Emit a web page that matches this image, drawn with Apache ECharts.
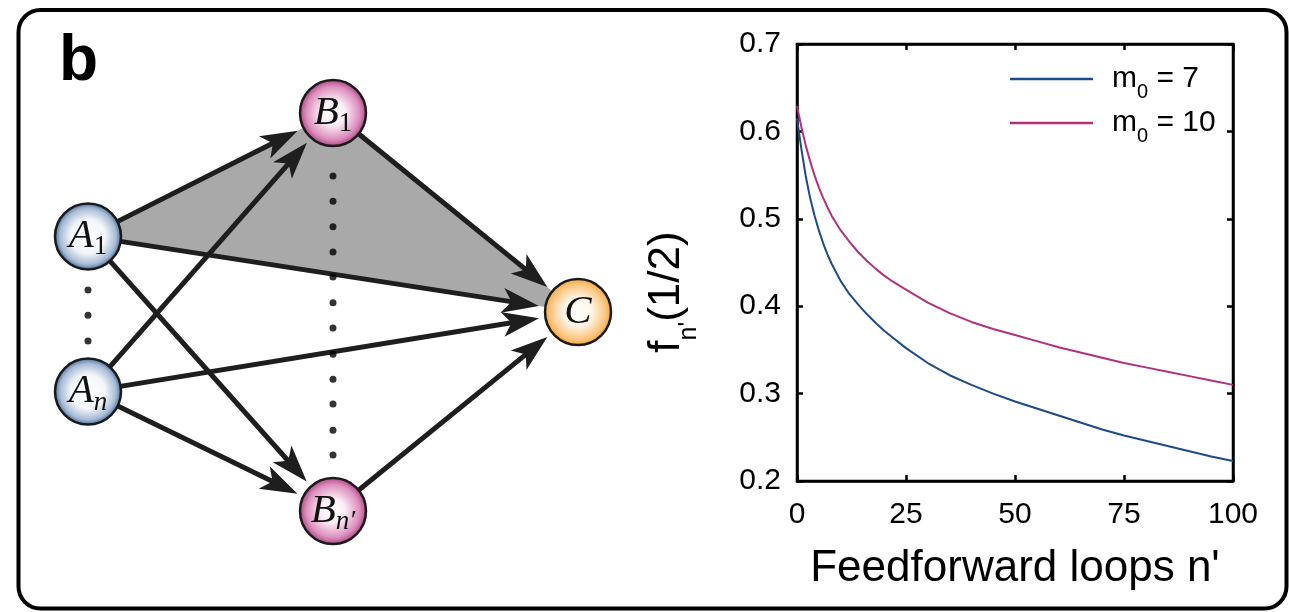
<!DOCTYPE html>
<html>
<head>
<meta charset="utf-8">
<script src="https://cdn.jsdelivr.net/npm/echarts@6/dist/echarts.min.js"></script>
<style>
  html, body { margin: 0; padding: 0; background: #fff; }
  #chart { width: 1289px; height: 612px; }
</style>
</head>
<body>
<div id="chart"></div>
<script>
// ---- right panel: f_n'(1/2) against number of feedforward loops ----
const loops = [0, 1, 2, 3, 4, 5, 6, 7, 8, 10, 12, 14, 16, 18, 20, 22, 25, 30, 35, 40, 45, 50, 55, 60, 65, 70, 75, 80, 85, 90, 95, 100];
const fM7 = [0.615, 0.580, 0.549, 0.524, 0.504, 0.487, 0.472, 0.459, 0.448, 0.429, 0.414, 0.402, 0.391, 0.381, 0.372, 0.364, 0.352, 0.335, 0.321, 0.310, 0.300, 0.291, 0.283, 0.275, 0.267, 0.259, 0.252, 0.246, 0.240, 0.234, 0.228, 0.223];
const fM10 = [0.629, 0.605, 0.584, 0.566, 0.550, 0.536, 0.524, 0.513, 0.503, 0.487, 0.474, 0.462, 0.452, 0.443, 0.435, 0.428, 0.419, 0.404, 0.392, 0.382, 0.374, 0.367, 0.360, 0.353, 0.347, 0.341, 0.335, 0.330, 0.325, 0.320, 0.315, 0.310];
const seriesNames = ['m0 = 7', 'm0 = 10'];
const seriesColors = ['#1d4b87', '#b3317c'];

// ---- left panel: feedforward network ----
const nodeNames = ['A1', 'An', 'B1', 'Bn', 'C'];
const nodeCol = [0, 0, 1, 1, 2];
const nodeRow = [0.31, 0.70, 0, 1, 0.50];
const nodeKind = ['a', 'a', 'b', 'b', 'c'];
const nodeLabels = ['{v|A}{s|1}', '{v|A}{si|n}', '{v|B}{s|1}', "{v|B}{si|n′}", '{v|C}'];
const edgeFrom = ['A1', 'A1', 'A1', 'An', 'An', 'An', 'B1', 'Bn'];
const edgeTo = ['B1', 'C', 'Bn', 'B1', 'C', 'Bn', 'C', 'C'];
const shaded = ['A1', 'B1', 'C'];
const dotsACol = [0, 0, 0];
const dotsARow = [0.445, 0.508, 0.573];
const dotsBCol = [1, 1, 1, 1, 1, 1, 1, 1, 1, 1, 1, 1];
const dotsBRow = [0.158, 0.222, 0.286, 0.349, 0.412, 0.477, 0.540, 0.606, 0.669, 0.731, 0.797, 0.859];

const FONT = 'Liberation Sans';
const SERIF = 'Liberation Serif';

const kindFill = {
  a: new echarts.graphic.RadialGradient(0.5, 0.5, 0.5, [
    { offset: 0, color: '#ffffff' }, { offset: 0.5, color: '#f3f6fa' },
    { offset: 0.82, color: '#a7bbd5' }, { offset: 1, color: '#3a6093' }]),
  b: new echarts.graphic.RadialGradient(0.5, 0.5, 0.5, [
    { offset: 0, color: '#ffffff' }, { offset: 0.35, color: '#fbeef6' },
    { offset: 0.78, color: '#dc8ebd' }, { offset: 1, color: '#a63d7d' }]),
  c: new echarts.graphic.RadialGradient(0.5, 0.5, 0.5, [
    { offset: 0, color: '#ffffff' }, { offset: 0.4, color: '#fff6ea' },
    { offset: 0.8, color: '#fbc67f' }, { offset: 1, color: '#f1a236' }])
};

const arrowPath = 'path://M0,0L9.5,28L0,21L-9.5,28Z M-14,0L-14,0.01 M14,28L14,27.99';

const axisLine = { show: true, onZero: false, lineStyle: { color: '#000', width: 2.5 } };
const tickIn = { show: true, inside: true, length: 6, lineStyle: { color: '#000', width: 2.5 } };

const chart = echarts.init(document.getElementById('chart'));
chart.setOption({
  animation: false,
  textStyle: { fontFamily: FONT },
  graphic: [
    { type: 'rect', z: 0, shape: { x: 18.5, y: 10, width: 1268, height: 598.5, r: 22 },
      style: { fill: 'none', stroke: '#000', lineWidth: 4 } },
    { type: 'text', x: 59, y: 62, style: { text: 'b', font: 'bold 64px ' + FONT, fill: '#000', verticalAlign: 'middle' } },
    { type: 'text', x: 667, y: 292, rotation: Math.PI / 2,
      style: {
        text: "{a|f}{s|n'}{a|(1/2)}", align: 'center', verticalAlign: 'middle', fill: '#000',
        rich: {
          a: { fontFamily: FONT, fontSize: 44, lineHeight: 44, color: '#000' },
          s: { fontFamily: FONT, fontSize: 25, lineHeight: 25, padding: [44, 0, 0, 0], color: '#000' }
        }
      } }
  ],
  grid: [
    { left: 797, top: 44, width: 436, height: 437, show: true, borderColor: '#000', borderWidth: 2.5, outerBoundsMode: 'none' },
    { left: 88, top: 113, width: 490, height: 398, show: false, outerBoundsMode: 'none' }
  ],
  legend: seriesNames.map((name, i) => ({
    data: [name],
    left: 1010, top: [56, 100][i], padding: 0, orient: 'vertical',
    icon: 'rect', itemWidth: 83, itemHeight: 2.5, selectedMode: false,
    formatter: n => n.replace(/^m0 = (.*)$/, '{a|m}{s|0}{b| = $1}'),
    textStyle: {
      rich: {
        a: { fontSize: 30, lineHeight: 30, color: '#000', padding: [0, 0, 0, 14] },
        b: { fontSize: 30, lineHeight: 30, color: '#000' },
        s: { fontSize: 20, lineHeight: 20, color: '#000', padding: [26, 0, 0, 0] }
      }
    }
  })),
  xAxis: [
    { gridIndex: 0, type: 'value', position: 'bottom', min: 0, max: 100, interval: 25,
      axisLine, axisTick: tickIn, splitLine: { show: false },
      axisLabel: { fontSize: 30, color: '#000', margin: 19 },
      name: "Feedforward loops n'", nameLocation: 'middle', nameGap: 66,
      nameTextStyle: { fontSize: 44, color: '#000' } },
    { gridIndex: 0, type: 'value', position: 'top', min: 0, max: 100, interval: 25,
      axisLine, axisTick: tickIn, splitLine: { show: false }, axisLabel: { show: false } },
    { gridIndex: 1, type: 'value', min: 0, max: 2, show: false }
  ],
  yAxis: [
    { gridIndex: 0, type: 'value', position: 'left', min: 0.2, max: 0.7, interval: 0.1,
      axisLine, axisTick: tickIn, splitLine: { show: false },
      axisLabel: { fontSize: 30, color: '#000', margin: 16, formatter: v => v.toFixed(1) } },
    { gridIndex: 0, type: 'value', position: 'right', min: 0.2, max: 0.7, interval: 0.1,
      axisLine, axisTick: tickIn, splitLine: { show: false }, axisLabel: { show: false } },
    { gridIndex: 1, type: 'value', min: 0, max: 1, inverse: true, show: false }
  ],
  series: [
    { name: seriesNames[0], type: 'line', xAxisIndex: 0, yAxisIndex: 0, showSymbol: false, symbol: 'none',
      color: seriesColors[0], lineStyle: { width: 2, color: seriesColors[0] },
      data: loops.map((n, i) => [n, fM7[i]]) },
    { name: seriesNames[1], type: 'line', xAxisIndex: 0, yAxisIndex: 0, showSymbol: false, symbol: 'none',
      color: seriesColors[1], lineStyle: { width: 2, color: seriesColors[1] },
      data: loops.map((n, i) => [n, fM10[i]]) },
    // shaded feedforward loop
    { type: 'custom', xAxisIndex: 2, yAxisIndex: 2, z: 1, silent: true, data: [[0]],
      renderItem: (params, api) => ({
        type: 'polygon',
        shape: { points: shaded.map(n => { const i = nodeNames.indexOf(n); return api.coord([nodeCol[i], nodeRow[i]]); }) },
        style: { fill: '#a9a9a9' }
      }) },
    // edges (graph nodes are invisible, only used to trim the arrows)
    { type: 'graph', coordinateSystem: 'cartesian2d', xAxisIndex: 2, yAxisIndex: 2, z: 2, silent: true,
      symbolSize: 116, itemStyle: { opacity: 0 }, label: { show: false },
      edgeSymbol: ['none', arrowPath], edgeSymbolSize: [0, 37],
      lineStyle: { color: '#1e1e1e', width: 5, opacity: 1, curveness: 0 },
      data: nodeNames.map((n, i) => ({ name: n, value: [nodeCol[i], nodeRow[i]] })),
      links: edgeFrom.map((s, i) => ({ source: s, target: edgeTo[i] })) },
    // visible nodes
    { type: 'scatter', xAxisIndex: 2, yAxisIndex: 2, z: 4, silent: true, symbolSize: 66,
      data: nodeNames.map((n, i) => ({
        value: [nodeCol[i], nodeRow[i]],
        itemStyle: { color: kindFill[nodeKind[i]], borderColor: '#1a1a1a', borderWidth: 2.5, opacity: 1 },
        label: { show: true, position: 'inside', formatter: nodeLabels[i] }
      })),
      label: {
        rich: {
          v: { fontFamily: SERIF, fontStyle: 'italic', fontSize: 41, lineHeight: 41, color: '#111' },
          s: { fontFamily: SERIF, fontSize: 27, lineHeight: 27, color: '#111', padding: [22, 0, 0, 0] },
          si: { fontFamily: SERIF, fontStyle: 'italic', fontSize: 27, lineHeight: 27, color: '#111', padding: [22, 0, 0, 0] }
        }
      } },
    // ellipsis dots
    { type: 'scatter', xAxisIndex: 2, yAxisIndex: 2, z: 3, silent: true, symbolSize: 7,
      itemStyle: { color: '#000' },
      data: dotsACol.map((c, i) => [c, dotsARow[i]]).concat(dotsBCol.map((c, i) => [c, dotsBRow[i]])) }
  ]
});
</script>
</body>
</html>
